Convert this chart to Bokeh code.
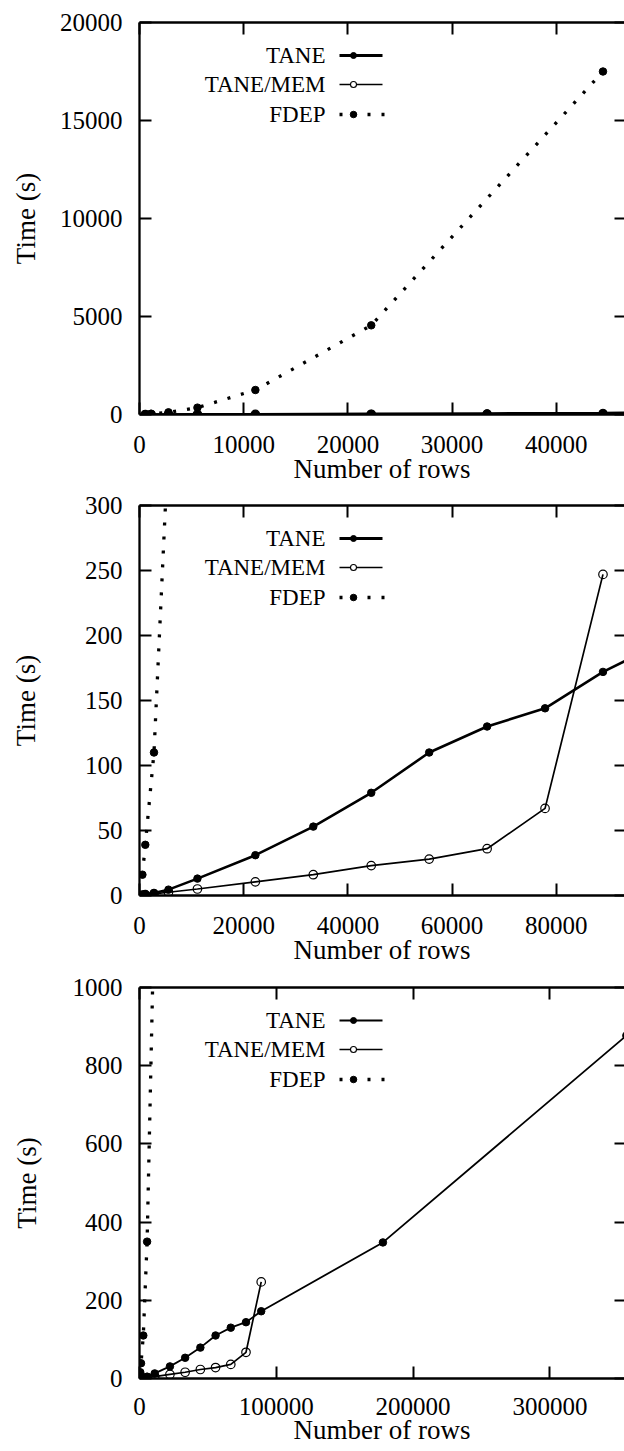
from bokeh.plotting import figure
from bokeh.layouts import column
from bokeh.models import Range1d, LinearAxis, FixedTicker, CustomJSTickFormatter, PrintfTickFormatter
from bokeh.core.properties import value
from bokeh.embed import file_html
from bokeh.resources import INLINE

# ---------------- data ----------------
rows = [556, 1112, 2780, 5560, 11120, 22240, 33360, 44480, 55600, 66720, 77840, 88960, 177920, 355840]
tane = [0.5, 1, 2, 4.5, 13, 31, 53, 79, 110, 130, 144, 172, 348, 877]

mem_rows = [556, 1112, 2780, 5560, 11120, 22240, 33360, 44480, 55600, 66720, 77840, 88960]
tane_mem = [0.3, 0.6, 1.2, 2.5, 5, 10.5, 16, 23, 28, 36, 67, 247]

fdep_rows = [556, 1112, 2780, 5560, 11120, 22240, 44480]
fdep = [16, 39, 110, 350, 1250, 4550, 17500]

legend_labels = ["TANE", "TANE/MEM", "FDEP"]
x_label = "Number of rows"
y_label = "Time (s)"

x_ticks_1 = [0, 10000, 20000, 30000, 40000]
y_ticks_1 = [0, 5000, 10000, 15000, 20000]
x_ticks_2 = [0, 20000, 40000, 60000, 80000]
y_ticks_2 = [0, 50, 100, 150, 200, 250, 300]
x_ticks_3 = [0, 100000, 200000, 300000]
y_ticks_3 = [0, 200, 400, 600, 800, 1000]

FONT = "Liberation Serif"
FW = 485

panels = [
    dict(x_end=46545, y_end=20000, xt=x_ticks_1, yt=y_ticks_1, fh=392, top=22, bottom=76,
         std=21, xals=-2, als=16, tw=2.6),
    dict(x_end=93090, y_end=300, xt=x_ticks_2, yt=y_ticks_2, fh=390, top=15, bottom=76,
         std=21, xals=-2, als=41, tw=2.6),
    dict(x_end=354500, y_end=1000, xt=x_ticks_3, yt=y_ticks_3, fh=391, top=16, bottom=73,
         std=19, xals=-3, als=28, tw=1.8),
]


def style_axis(ax, ticks, labels=True):
    ax.ticker = FixedTicker(ticks=ticks)
    ax.major_tick_in = 12
    ax.major_tick_out = 0
    ax.minor_tick_in = 0
    ax.minor_tick_out = 0
    ax.major_tick_line_width = 2
    ax.major_tick_line_color = "black"
    ax.axis_line_width = 2.3
    ax.axis_line_color = "black"
    if labels:
        ax.formatter = PrintfTickFormatter(format="%d")
        ax.major_label_text_font = FONT
        ax.major_label_text_font_size = "25px"
        ax.major_label_text_color = "black"
        ax.axis_label_text_font = FONT
        ax.axis_label_text_font_size = "27px"
        ax.axis_label_text_font_style = "normal"
        ax.axis_label_text_color = "black"
    else:
        ax.formatter = CustomJSTickFormatter(code="return ''")
        ax.major_label_text_font_size = "0px"
        ax.major_label_standoff = 0
        ax.axis_label_standoff = 0


def make_panel(cfg):
    p = figure(frame_width=FW, frame_height=cfg["fh"],
               x_range=Range1d(0, cfg["x_end"]), y_range=Range1d(0, cfg["y_end"]),
               output_backend="svg", toolbar_location=None,
               min_border_left=139, min_border_right=0,
               min_border_top=cfg["top"], min_border_bottom=cfg["bottom"])
    p.xgrid.visible = False
    p.ygrid.visible = False
    p.outline_line_color = None
    p.background_fill_color = "white"
    p.border_fill_color = "white"

    xb = p.xaxis[0]
    style_axis(xb, cfg["xt"])
    xb.axis_label = x_label
    xb.major_label_standoff = cfg["std"]
    xb.axis_label_standoff = cfg["xals"]

    yl = p.yaxis[0]
    style_axis(yl, cfg["yt"])
    yl.axis_label = y_label
    yl.major_label_standoff = 17
    yl.axis_label_standoff = cfg["als"]

    xa = LinearAxis()
    style_axis(xa, cfg["xt"], labels=False)
    p.add_layout(xa, "above")

    yr = LinearAxis()
    style_axis(yr, cfg["yt"], labels=False)
    yr.axis_line_color = None
    yr.major_tick_in = 10
    p.add_layout(yr, "right")

    # data series
    p.line(rows, tane, line_width=cfg["tw"], line_color="black")
    p.scatter(rows, tane, marker="circle", size=7.5, fill_color="black", line_color="black")
    p.line(mem_rows, tane_mem, line_width=1.7, line_color="black")
    p.scatter(mem_rows, tane_mem, marker="circle", size=8.5, fill_color=None, line_color="black", line_width=1.2)
    p.line(fdep_rows, fdep, line_width=3.3, line_dash="3 11", line_cap="butt", line_color="black")
    p.scatter(fdep_rows, fdep, marker="circle", size=7.5, fill_color="black", line_color="black")

    # legend (gnuplot style: label left, sample right) in frame pixel space
    fh = cfg["fh"]
    p.extra_x_ranges = {"px": Range1d(0, FW)}
    p.extra_y_ranges = {"px": Range1d(0, fh)}
    ly = [fh - 33, fh - 62, fh - 92]
    p.text(x=[186, 186, 186], y=ly, text=legend_labels,
           x_range_name="px", y_range_name="px",
           text_align="right", text_baseline="middle",
           text_font=value(FONT), text_font_size="23px", text_color="black")
    p.line([200, 243], [ly[0], ly[0]], x_range_name="px", y_range_name="px",
           line_width=cfg["tw"] + 0.4, line_color="black")
    p.scatter([214], [ly[0]], x_range_name="px", y_range_name="px",
              marker="circle", size=6, fill_color="black", line_color="black")
    p.line([200, 243], [ly[1], ly[1]], x_range_name="px", y_range_name="px",
           line_width=1.7, line_color="black")
    p.scatter([214], [ly[1]], x_range_name="px", y_range_name="px",
              marker="circle", size=6, fill_color="white", line_color="black", line_width=1.1)
    p.line([200, 245], [ly[2], ly[2]], x_range_name="px", y_range_name="px",
           line_width=3.3, line_dash="3 11", line_cap="butt", line_color="black")
    p.scatter([214], [ly[2]], x_range_name="px", y_range_name="px",
              marker="circle", size=6.5, fill_color="black", line_color="black")
    return p


figs = [make_panel(c) for c in panels]
layout = column(*figs, spacing=0)

open("out.html", "w").write(file_html(layout, INLINE))
